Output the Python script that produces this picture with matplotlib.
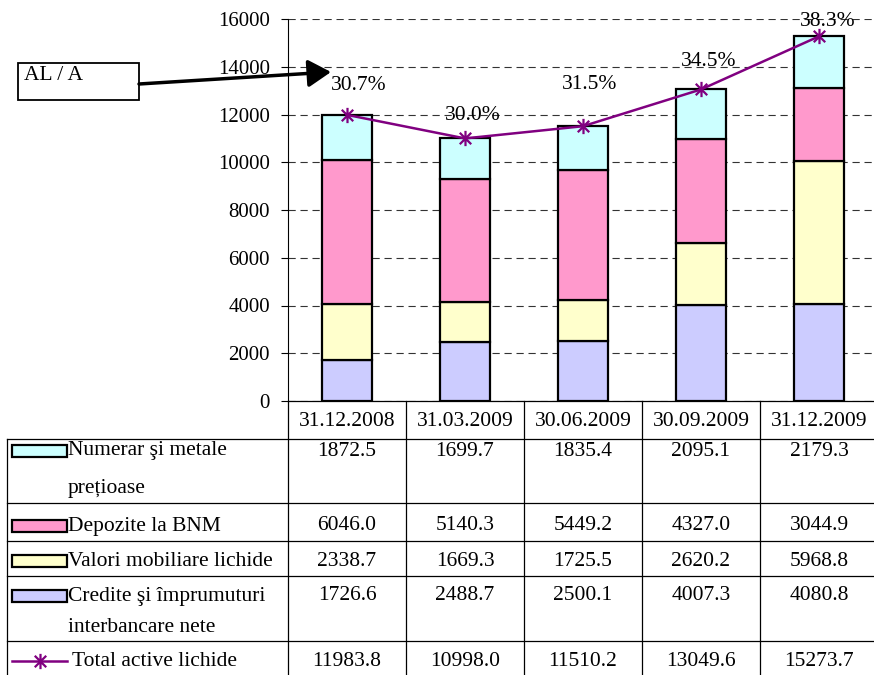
import matplotlib
matplotlib.use("Agg")
import matplotlib.pyplot as plt
from matplotlib.path import Path
from matplotlib.patches import Rectangle, FancyArrowPatch

# ---------------- data ----------------
dates = ["31.12.2008", "31.03.2009", "30.06.2009", "30.09.2009", "31.12.2009"]
numerar = [1872.5, 1699.7, 1835.4, 2095.1, 2179.3]
depozite = [6046.0, 5140.3, 5449.2, 4327.0, 3044.9]
valori = [2338.7, 1669.3, 1725.5, 2620.2, 5968.8]
credite = [1726.6, 2488.7, 2500.1, 4007.3, 4080.8]
total = [11983.8, 10998.0, 11510.2, 13049.6, 15273.7]
al_a = [30.7, 30.0, 31.5, 34.5, 38.3]

series_labels = ["Numerar şi metale\nprețioase", "Depozite la BNM",
                 "Valori mobiliare lichide", "Credite şi împrumuturi\ninterbancare nete",
                 "Total active lichide"]
colors = ["#CCFFFF", "#FF99CC", "#FFFFCC", "#CCCCFF"]
line_color = "#800080"

plt.rcParams['font.family'] = ['Liberation Serif', 'DejaVu Serif']
FS = 15
FS_T = 15.5

W, H = 874, 675
fig = plt.figure(figsize=(W / 100, H / 100), dpi=100)

# geometry (pixels)
ax_left, ax_top, ax_bottom = 288, 19, 401
col_w = 118
ncol = len(dates)
ax = fig.add_axes([ax_left / W, (H - ax_bottom) / H, ncol * col_w / W, (ax_bottom - ax_top) / H])
ax.set_xlim(-0.5, ncol - 0.5)
ax.set_ylim(0, 16000)
ax.set_yticks(range(0, 16001, 2000))
ax.tick_params(axis='y', labelsize=FS, direction='out', length=5, width=0.8, pad=8)
ax.set_xticks([])
for s in ['top', 'right', 'bottom']:
    ax.spines[s].set_visible(False)
ax.spines['left'].set_linewidth(0.8)
ax.yaxis.grid(True, color='#333333', linestyle=(0, (6.5, 4.3)), linewidth=0.8)
ax.set_axisbelow(True)

x = list(range(ncol))
bw = 0.43
bottom = [0.0] * ncol
stack = [(credite, colors[3]), (valori, colors[2]), (depozite, colors[1]), (numerar, colors[0])]
for vals, c in stack:
    ax.bar(x, vals, bw, bottom=bottom, color=c, edgecolor='black', linewidth=1.6, zorder=2)
    bottom = [b + v for b, v in zip(bottom, vals)]

star = Path([(0, -1), (0, 1), (-0.75, -0.75), (0.75, 0.75), (-0.75, 0.75), (0.75, -0.75)],
            [Path.MOVETO, Path.LINETO, Path.MOVETO, Path.LINETO, Path.MOVETO, Path.LINETO])
ax.plot(x, total, color=line_color, linewidth=1.8, marker=star, markersize=11,
        markeredgewidth=1.6, zorder=4, clip_on=False)

offsets_px = [(12, 29), (8, 23), (7, 42), (8, 28), (9, 15)]
for xi, t, p, (dx, dy) in zip(x, total, al_a, offsets_px):
    ax.annotate(f"{p:.1f}%", (xi, t), xytext=(dx * 0.72, dy * 0.72), textcoords='offset points',
                ha='center', va='center', fontsize=FS_T, zorder=5)

# ---------------- overlay for table / annotation ----------------
ov = fig.add_axes([0, 0, 1, 1], facecolor='none')
ov.set_xlim(0, W)
ov.set_ylim(H, 0)
ov.axis('off')

lw = 0.9
tab_left = 7
right = ax_left + ncol * col_w
row_edges = [401, 439, 503, 541, 576, 641]
ov.plot([ax_left, right], [row_edges[0]] * 2, color='black', lw=lw)
for y in row_edges[1:]:
    ov.plot([tab_left, right], [y, y], color='black', lw=lw)
ov.plot([tab_left, tab_left], [row_edges[1], H], color='black', lw=lw)
for i in range(ncol + 1):
    xx = ax_left + i * col_w
    ov.plot([xx, xx], [row_edges[0], H], color='black', lw=lw)

col_centers = [ax_left + (i + 0.5) * col_w for i in range(ncol)]
for cx, d in zip(col_centers, dates):
    ov.text(cx, 421, d, ha='center', va='center', fontsize=FS_T)

row_text_y = [451, 526, 561, 596, 661]
second_line_gap = [38, 0, 0, 31]
table_vals = [numerar, depozite, valori, credite, total]
for ry, vals in zip(row_text_y, table_vals):
    for cx, v in zip(col_centers, vals):
        ov.text(cx, ry, f"{v:.1f}", ha='center', va='center', fontsize=FS_T)

key_x0, key_x1 = 12, 67
for ry, lab, c, gap in zip(row_text_y[:4], series_labels[:4], colors, second_line_gap):
    ov.add_patch(Rectangle((key_x0, ry - 6), key_x1 - key_x0, 12, facecolor=c,
                           edgecolor='black', linewidth=1.6))
    for k, ln in enumerate(lab.split("\n")):
        ov.text(key_x1 + 1, ry + k * gap, ln, ha='left', va='center', fontsize=FS_T)
ry = row_text_y[4]
ov.plot([key_x0, key_x1], [ry, ry], color=line_color, lw=1.8)
ov.plot([(key_x0 + key_x1) / 2], [ry], color=line_color, marker=star, markersize=11,
        markeredgewidth=1.6)
ov.text(key_x1 + 5, ry, series_labels[4], ha='left', va='center', fontsize=FS_T)

# AL / A box and arrow
ov.add_patch(Rectangle((18, 63), 121, 37, facecolor='white', edgecolor='black', linewidth=1.3))
ov.text(24, 66, "AL / A", ha='left', va='top', fontsize=FS_T)
ov.add_patch(FancyArrowPatch((139, 84), (331, 72), arrowstyle='-|>,head_length=10,head_width=6',
                             mutation_scale=1.4, color='black', linewidth=2.5, shrinkA=0, shrinkB=0))

fig.savefig("out.png", dpi=100)
